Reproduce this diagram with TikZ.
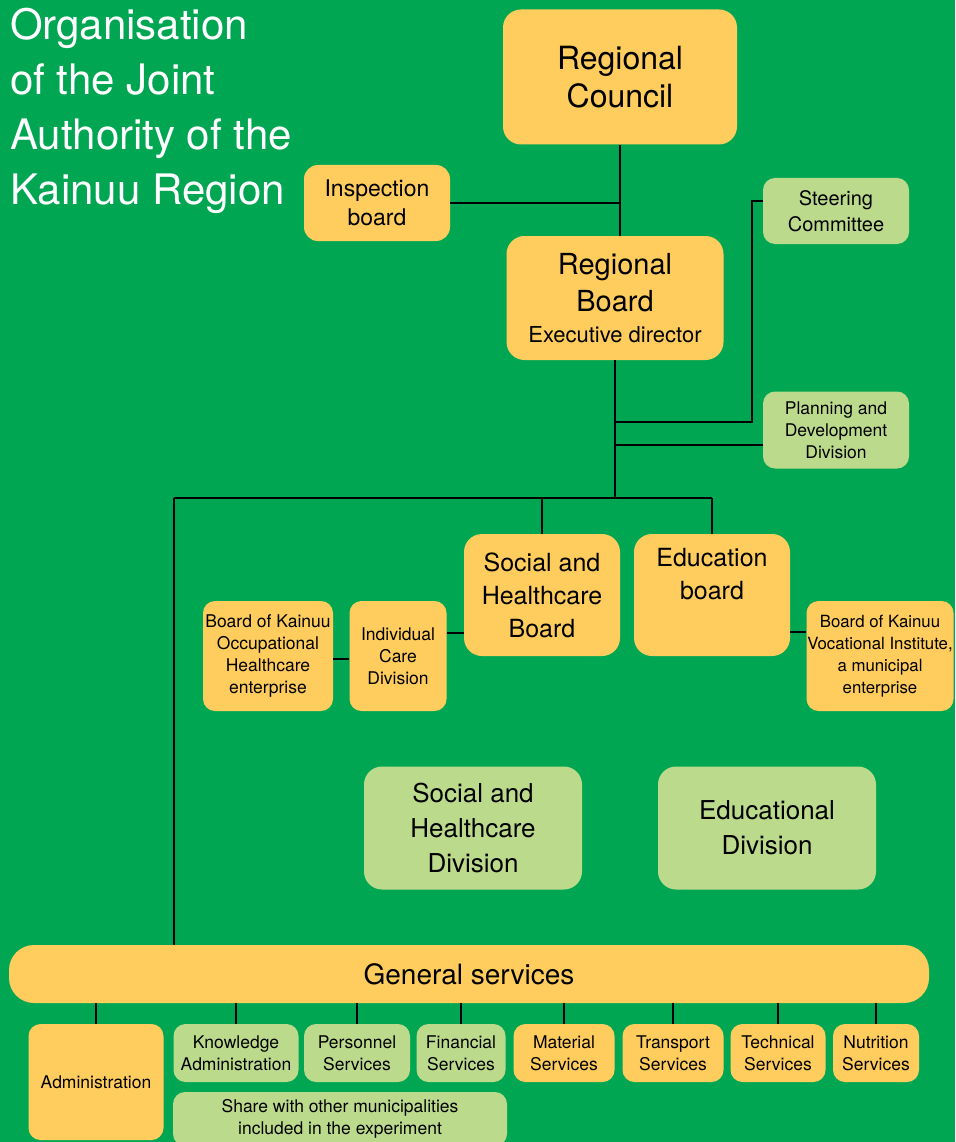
\documentclass[tikz,border=0pt]{standalone}
\usepackage{fontspec}
\setmainfont{TeX Gyre Heros}
\definecolor{bggreen}{RGB}{0,166,81}
\definecolor{boxyellow}{RGB}{255,205,94}
\definecolor{boxgreen}{RGB}{188,218,140}
\begin{document}
\begin{tikzpicture}[x=1pt,y=-1pt]
	% Set styles
	\tikzset{org box/.style={rounded corners=18pt, inner sep=0pt, align=center, text=black},
		yellow box/.style={org box, fill=boxyellow},
		green box/.style={org box, fill=boxgreen},
		small box/.style={rounded corners=12pt, font=\fontsize{17.5}{22}\selectfont},
		link/.style={draw=black, line width=1.5pt}}
	
	% Background
	\fill[bggreen] (0,0) rectangle (955,1142);
	\useasboundingbox (0,0) rectangle (955,1142);
	
	% Title
	\node [anchor=north west, align=left, inner sep=0pt, text=white, font=\fontsize{42}{55}\selectfont] (title) at (10,8) {Organisation\\of the Joint\\Authority of the\\Kainuu Region};
	
	% Draw the boards
	\node [yellow box, minimum width=234, minimum height=135, font=\fontsize{32}{38}\selectfont] (council) at (620,77) {Regional\\Council};
	\node [yellow box, rounded corners=14pt, minimum width=146, minimum height=76, font=\fontsize{23}{29}\selectfont] (inspect) at (377,203) {Inspection\\board};
	\node [yellow box, minimum width=217, minimum height=124, font=\fontsize{29}{37}\selectfont] (rboard) at (615,298) {Regional\\Board\\[-6pt]{\fontsize{22}{26}\selectfont Executive director}};
	\node [green box, small box, minimum width=146, minimum height=66, font=\fontsize{20}{26}\selectfont] (steer) at (836,211) {Steering\\Committee};
	\node [green box, small box, minimum width=146, minimum height=77] (plan) at (836,430) {Planning and\\Development\\Division};
	\node [yellow box, minimum width=156, minimum height=122, font=\fontsize{25}{33}\selectfont] (socb) at (542,595) {Social and\\Healthcare\\Board};
	\node [yellow box, minimum width=156, minimum height=122, font=\fontsize{25}{33}\selectfont] (edu) at (712,595) {Education\\board\\\strut};
	\node [yellow box, small box, minimum width=97, minimum height=110] (care) at (398,656) {Individual\\Care\\Division};
	\node [yellow box, small box, minimum width=130, minimum height=110] (occ) at (268,656) {Board of Kainuu\\Occupational\\Healthcare\\enterprise};
	\node [yellow box, small box, minimum width=147, minimum height=110, font=\fontsize{16.8}{22}\selectfont] (voc) at (880,656) {Board of Kainuu\\Vocational Institute,\\a municipal\\enterprise};
	
	% Divisions
	\node [green box, minimum width=218, minimum height=123, font=\fontsize{26}{35}\selectfont] (socd) at (473,828) {Social and\\Healthcare\\Division};
	\node [green box, minimum width=218, minimum height=123, font=\fontsize{26}{35}\selectfont] (edud) at (767,828) {Educational\\Division};
	
	% General services and its units
	\node [yellow box, rounded corners=25pt, minimum width=920, minimum height=58, font=\fontsize{28}{34}\selectfont] (gensvc) at (469,974) {General services};
	\node [yellow box, small box, minimum width=135, minimum height=116] (adm) at (96,1082) {Administration};
	\node [green box, small box, minimum width=125, minimum height=58] (know) at (236,1053) {Knowledge\\Administration};
	\node [green box, small box, minimum width=106, minimum height=58] (pers) at (357,1053) {Personnel\\Services};
	\node [green box, small box, minimum width=89, minimum height=58] (fin) at (461,1053) {Financial\\Services};
	\node [green box, small box, minimum width=334, minimum height=54] (share) at (340,1119) {Share with other municipalities\\included in the experiment};
	\node [yellow box, small box, minimum width=101, minimum height=58] (mat) at (564,1053) {Material\\Services};
	\node [yellow box, small box, minimum width=101, minimum height=58] (trans) at (673,1053) {Transport\\Services};
	\node [yellow box, small box, minimum width=95, minimum height=58] (tech) at (778,1053) {Technical\\Services};
	\node [yellow box, small box, minimum width=86, minimum height=58] (nutr) at (876,1053) {Nutrition\\Services};
	
	% Connectors
	\coordinate (hub) at (616,498);
	\coordinate (busleft) at (174,498);
	\coordinate (elbow) at (752,422);
	\draw[link] (council.south) -- (council.south |- rboard.north);
	\draw[link] (inspect.east) -- (inspect.east -| council.south);
	\draw[link] (rboard.south) -- (rboard.south |- hub);
	\draw[link] ([yshift=10pt]steer.west) -| (elbow) -- (elbow -| rboard.south);
	\draw[link] ([yshift=-15pt]plan.west) -- ([yshift=-15pt]plan.west -| rboard.south);
	\draw[link] (busleft) -- (hub -| edu.north);
	\draw[link] (hub -| socb.north) -- (socb.north);
	\draw[link] (hub -| edu.north) -- (edu.north);
	\draw[link] (busleft) -- (busleft |- gensvc.north);
	\draw[link] ([yshift=-38pt]socb.west) -- ([yshift=-38pt]socb.west -| care.east);
	\draw[link] ([yshift=-3pt]care.west) -- ([yshift=-3pt]occ.east);
	\draw[link] ([yshift=-37pt]edu.east) -- ([yshift=-37pt]edu.east -| voc.west);
	\foreach \unit in {adm,know,pers,fin,mat,trans,tech,nutr}
		\draw[link] (gensvc.south -| \unit.north) -- (\unit.north);
	
\end{tikzpicture}
\end{document}
